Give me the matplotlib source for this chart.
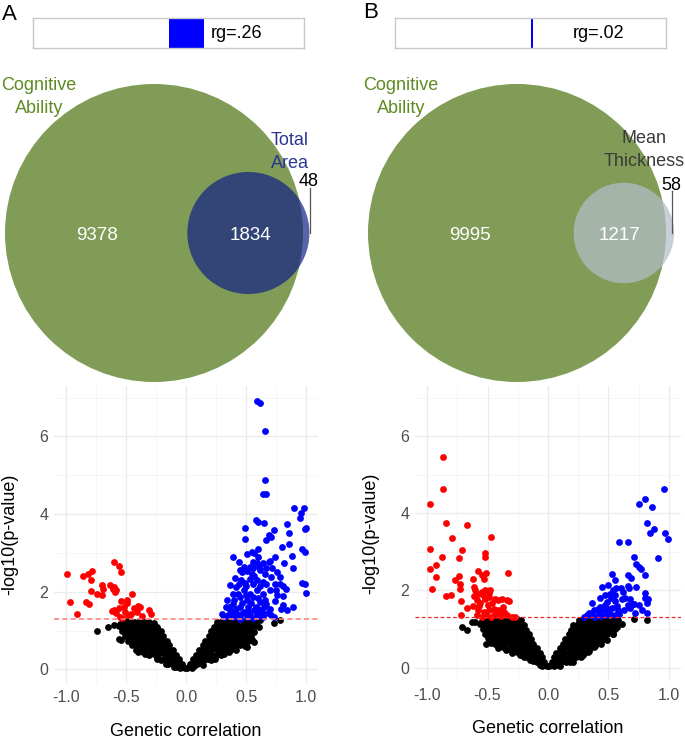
import numpy as np
import matplotlib
matplotlib.use("Agg")
import matplotlib.pyplot as plt
from matplotlib.patches import Circle

plt.rcParams['font.family'] = ['Liberation Sans', 'DejaVu Sans']

# ---------------- data ----------------
panel_labels = ["A", "B"]
rg_values = [0.26, 0.02]
rg_labels = ["rg=.26", "rg=.02"]

set_main = "Cognitive\nAbility"
set_other = ["Total\nArea", "Mean\nThickness"]
only_main = [9378, 9995]
overlap = [1834, 1217]
only_other = [48, 58]

x_ticks = [-1.0, -0.5, 0.0, 0.5, 1.0]
x_ticklabels = ["-1.0", "-0.5", "0.0", "0.5", "1.0"]
y_ticks = [0, 2, 4, 6]
y_ticklabels = ["0", "2", "4", "6"]
p_threshold = 0.05

a_blue = [(0.59,6.92),(0.62,6.87),(0.66,6.15),(0.66,4.89),(0.64,4.52),(0.67,4.52),
    (0.90,4.15),(0.98,4.15),(0.96,4.03),(0.95,3.91),(1.00,3.65),(0.99,3.62),
    (0.58,3.85),(0.60,3.80),(0.65,3.76),(0.49,3.65),(0.84,3.74),(0.73,3.59),(0.86,3.52),
    (0.49,3.35),(0.69,3.46),(0.71,3.42),(0.67,3.33),(0.86,3.24),(0.80,3.16),(0.97,3.11),(0.99,3.03),
    (0.39,2.90),(0.44,2.77),(0.60,3.09),(0.55,3.03),(0.51,2.98),(0.74,2.90),(0.88,2.92),
    (0.56,2.77),(0.59,2.73),(0.64,2.74),(0.82,2.73),(0.69,2.77),(0.89,2.60),
    (0.48,2.64),(0.51,2.53),(0.56,2.60),(0.62,2.56),(0.67,2.60),
    (0.71,2.38),(0.78,2.38),(0.46,2.30),(0.53,2.34),(0.59,2.30),(0.64,2.25),
    (0.44,2.21),(0.49,2.23),(0.56,2.19),(0.62,2.14),(0.67,2.19),(0.74,2.21),(0.81,2.14),
    (0.99,2.21),(0.97,2.22),
    (0.37,2.17),(0.42,2.12),(0.48,2.04),(0.53,1.95),(0.59,2.04),(0.64,1.95),(0.70,2.04),(0.83,2.08),
    (1.00,1.98),
    (0.39,1.95),(0.45,1.87),(0.51,1.78),(0.56,1.87),(0.62,1.74),(0.67,1.69),(0.76,1.91),(0.81,1.89),
    (0.34,1.78),(0.39,1.69),(0.45,1.61),(0.52,1.61),(0.57,1.52),(0.63,1.48),
    (0.81,1.65),(0.84,1.52),(0.89,1.60),
    (0.33,1.61),(0.37,1.52),(0.42,1.44),(0.48,1.48),(0.53,1.40),(0.59,1.44),(0.64,1.35),
    (0.71,1.40),(0.73,1.34),
    (0.30,1.44),(0.35,1.40),(0.39,1.35),(0.45,1.31),(0.51,1.35),(0.56,1.33),
    (0.36,1.62),(0.40,1.80),(0.43,1.95),(0.47,1.70),(0.50,1.92),(0.54,1.70),(0.58,1.62),
    (0.60,1.85),(0.55,2.45),(0.50,2.15),(0.42,1.55),(0.46,1.42),(0.52,1.50),(0.60,1.55),
    (0.65,1.60),(0.70,1.55),(0.68,1.45),(0.41,2.35),(0.47,2.50),(0.57,2.40),(0.61,2.65),
    (0.66,2.45),(0.72,2.62),(0.76,2.50),(0.78,2.20),(0.74,1.75),(0.79,1.55),(0.32,1.35),
    (0.38,1.45),(0.44,1.38),(0.62,1.38),(0.66,1.80),(0.70,2.80),(0.75,2.05),(0.60,2.90),
    (0.57,3.00),(0.53,2.65),(0.45,2.55)]

a_red = [(-0.99,2.45),(-0.86,2.41),(-0.82,2.45),(-0.78,2.54),(-0.79,2.30),(-0.79,2.01),
    (-0.70,2.17),(-0.69,2.08),(-0.63,2.17),(-0.60,2.12),(-0.58,2.04),(-0.59,1.99),(-0.61,2.06),
    (-0.74,1.95),(-0.70,1.92),(-0.97,1.74),(-0.91,1.42),(-0.83,1.74),(-0.81,1.68),(-0.54,1.76),
    (-0.49,1.78),(-0.49,1.71),(-0.45,1.95),(-0.60,1.54),(-0.56,1.59),(-0.58,1.45),(-0.52,1.61),
    (-0.51,1.48),(-0.43,1.57),(-0.40,1.63),(-0.38,1.61),(-0.41,1.48),(-0.31,1.54),(-0.29,1.44),
    (-0.48,1.39),(-0.37,1.37),(-0.60,2.77),(-0.56,2.66),(-0.54,2.50),(-0.55,1.36),(-0.46,1.42),
    (-0.53,1.33),(-0.62,1.50)]

a_black = [
    (0.01,0.03),(0.03,0.06),(0.05,0.04),(0.07,0.08),
    (0.03,0.14),(0.06,0.16),(0.09,0.13),(0.12,0.17),(0.14,0.12),
    (0.06,0.27),(0.09,0.25),(0.12,0.29),(0.15,0.24),(0.18,0.28),(0.21,0.25),(0.24,0.27),
    (0.08,0.38),(0.11,0.40),(0.15,0.37),(0.19,0.41),(0.22,0.38),(0.26,0.40),(0.29,0.36),(0.32,0.39),
    (0.11,0.50),(0.14,0.53),(0.18,0.49),(0.22,0.52),(0.26,0.50),(0.30,0.53),(0.34,0.49),(0.38,0.52),(0.42,0.50),
    (0.14,0.62),(0.17,0.64),(0.21,0.61),(0.25,0.65),(0.29,0.62),(0.33,0.64),(0.37,0.61),(0.41,0.65),(0.45,0.62),(0.49,0.60),
    (0.16,0.74),(0.20,0.76),(0.24,0.73),(0.28,0.77),(0.32,0.74),(0.36,0.76),(0.40,0.73),(0.44,0.77),(0.48,0.74),(0.52,0.72),(0.55,0.76),
    (0.19,0.86),(0.23,0.88),(0.27,0.85),(0.31,0.89),(0.35,0.86),(0.39,0.88),(0.43,0.85),(0.47,0.89),(0.51,0.86),(0.54,0.84),
    (0.21,0.98),(0.25,1.00),(0.29,0.97),(0.33,1.01),(0.37,0.98),(0.41,1.00),(0.45,0.97),(0.49,1.01),(0.53,0.98),(0.57,0.96),
    (0.23,1.10),(0.27,1.12),(0.31,1.09),(0.35,1.13),(0.39,1.10),(0.43,1.12),(0.47,1.09),(0.51,1.13),(0.55,1.10),(0.59,1.11),(0.61,1.08),
    (0.26,1.22),(0.30,1.24),(0.34,1.21),(0.38,1.25),(0.42,1.22),(0.46,1.26),(0.50,1.23),(0.54,1.25),(0.58,1.22),
    (0.73,1.19),(0.78,1.28),(0.62,1.27),(0.51,0.58),(0.50,0.66),(0.55,0.75),(0.57,0.70),
    (0.04,0.09),(0.07,0.21),(0.11,0.21),(0.10,0.33),(0.17,0.33),(0.24,0.33),(0.13,0.45),(0.20,0.45),
    (0.28,0.45),(0.36,0.45),(0.16,0.57),(0.24,0.57),(0.32,0.57),(0.40,0.57),(0.19,0.69),(0.27,0.69),
    (0.35,0.69),(0.43,0.69),(0.22,0.81),(0.30,0.81),(0.38,0.81),(0.46,0.81),(0.25,0.93),(0.33,0.93),
    (0.41,0.93),(0.49,0.93),(0.28,1.05),(0.36,1.05),(0.44,1.05),(0.52,1.05),(0.32,1.17),(0.40,1.17),
    (0.48,1.17),(0.56,1.17),
    (-0.01,0.03),(-0.03,0.06),(-0.05,0.04),(-0.08,0.07),(-0.10,0.05),
    (-0.03,0.14),(-0.06,0.16),(-0.09,0.13),(-0.12,0.17),(-0.15,0.13),(-0.17,0.15),
    (-0.06,0.27),(-0.09,0.25),(-0.12,0.29),(-0.15,0.24),(-0.18,0.28),(-0.21,0.25),(-0.24,0.27),
    (-0.08,0.38),(-0.11,0.40),(-0.15,0.37),(-0.19,0.41),(-0.23,0.38),(-0.27,0.40),(-0.31,0.37),(-0.34,0.40),
    (-0.11,0.50),(-0.14,0.53),(-0.18,0.49),(-0.22,0.52),(-0.26,0.50),(-0.30,0.53),(-0.34,0.49),(-0.38,0.52),(-0.42,0.50),
    (-0.14,0.62),(-0.17,0.64),(-0.21,0.61),(-0.25,0.65),(-0.29,0.62),(-0.33,0.64),(-0.37,0.61),(-0.41,0.65),(-0.45,0.62),
    (-0.16,0.74),(-0.20,0.76),(-0.24,0.73),(-0.28,0.77),(-0.32,0.74),(-0.36,0.76),(-0.40,0.73),(-0.44,0.77),(-0.48,0.74),
    (-0.19,0.86),(-0.23,0.88),(-0.27,0.85),(-0.31,0.89),(-0.35,0.86),(-0.39,0.88),(-0.43,0.85),(-0.47,0.89),(-0.51,0.86),
    (-0.21,0.98),(-0.25,1.00),(-0.29,0.97),(-0.33,1.01),(-0.37,0.98),(-0.41,1.00),(-0.45,0.97),(-0.49,1.01),(-0.53,0.98),
    (-0.24,1.10),(-0.28,1.12),(-0.32,1.09),(-0.36,1.13),(-0.40,1.10),(-0.44,1.12),(-0.48,1.09),(-0.52,1.13),(-0.56,1.12),(-0.60,1.14),
    (-0.27,1.20),(-0.31,1.23),(-0.35,1.21),(-0.39,1.25),(-0.43,1.22),(-0.47,1.27),(-0.51,1.25),(-0.55,1.18),
    (-0.74,0.99),(-0.65,1.09),(-0.56,0.79),(-0.54,0.75),(-0.40,0.45),
    (-0.04,0.09),(-0.07,0.21),(-0.11,0.21),(-0.10,0.33),(-0.17,0.33),(-0.24,0.33),(-0.13,0.45),(-0.20,0.45),
    (-0.28,0.45),(-0.36,0.45),(-0.16,0.57),(-0.24,0.57),(-0.32,0.57),(-0.40,0.57),(-0.19,0.69),(-0.27,0.69),
    (-0.35,0.69),(-0.43,0.69),(-0.22,0.81),(-0.30,0.81),(-0.38,0.81),(-0.46,0.81),(-0.25,0.93),(-0.33,0.93),
    (-0.41,0.93),(-0.49,0.93),(-0.28,1.05),(-0.36,1.05),(-0.44,1.05),(-0.52,1.05),(-0.32,1.17),(-0.40,1.17),
    (-0.48,1.17)]

b_blue = [(0.96,4.64),(0.80,4.36),(0.75,4.25),(0.86,4.15),(0.82,3.75),(0.84,3.50),(0.88,3.58),
    (0.97,3.49),(0.99,3.34),(0.59,3.25),(0.66,3.25),(0.91,2.85),(0.71,2.86),(0.73,2.69),(0.75,2.60),
    (0.77,2.56),(0.80,2.41),(0.53,2.43),(0.55,2.27),(0.66,2.39),(0.69,2.33),(0.45,2.10),(0.50,2.13),
    (0.60,2.07),(0.66,2.12),(0.67,2.06),(0.73,2.10),(0.54,2.00),(0.51,1.91),(0.55,1.87),(0.47,1.87),
    (0.43,1.79),(0.80,1.94),(0.64,1.81),(0.68,1.78),(0.71,1.65),(0.80,1.79),(0.83,1.77),(0.82,1.66),
    (0.36,1.66),(0.43,1.57),(0.47,1.63),(0.50,1.52),(0.55,1.72),(0.57,1.60),(0.38,1.48),(0.42,1.41),
    (0.46,1.48),(0.63,1.48),(0.66,1.61),(0.70,1.64),(0.82,1.41),(0.72,1.41),(0.32,1.35),(0.30,1.31),
    (0.51,1.38),(0.55,1.35),(0.59,1.39),(0.36,1.35),(0.39,1.31),(0.44,1.33),(0.48,1.36),(0.53,1.55),
    (0.58,1.50),(0.61,1.78),(0.49,1.70),(0.52,1.80),(0.45,1.55),(0.41,1.52),(0.34,1.42),(0.56,2.05),
    (0.62,1.95),(0.68,1.55),(0.75,1.62),(0.78,1.50)]

b_red = [(-0.87,5.45),(-0.87,4.62),(-0.98,4.23),(-0.84,3.75),(-0.67,3.69),(-0.47,3.39),(-0.79,3.36),
    (-0.98,3.08),(-0.71,3.06),(-0.52,2.98),(-0.52,2.87),(-0.88,2.87),(-0.74,2.84),(-0.98,2.56),
    (-0.93,2.65),(-0.93,2.35),(-0.96,2.04),(-0.77,2.26),(-0.74,2.36),(-0.73,2.16),(-0.73,2.04),
    (-0.33,2.46),(-0.58,2.49),(-0.55,2.39),(-0.51,2.45),(-0.53,2.30),(-0.62,2.30),(-0.61,2.10),
    (-0.84,1.85),(-0.80,1.87),(-0.72,1.72),(-0.67,1.55),(-0.72,1.35),(-0.60,2.00),(-0.58,1.91),
    (-0.55,1.96),(-0.52,2.00),(-0.48,2.02),(-0.59,1.74),(-0.56,1.67),(-0.52,1.78),(-0.49,1.83),
    (-0.44,1.78),(-0.41,1.74),(-0.38,1.78),(-0.34,1.74),(-0.32,1.72),(-0.58,1.48),(-0.53,1.44),
    (-0.49,1.48),(-0.45,1.52),(-0.41,1.48),(-0.37,1.57),(-0.36,1.44),(-0.59,1.35),(-0.55,1.32),
    (-0.51,1.36),(-0.47,1.32),(-0.43,1.36),(-0.39,1.33),(-0.34,1.36),(-0.30,1.32),(-0.27,1.31),
    (-0.62,1.60),(-0.57,1.60),(-0.50,1.62),(-0.46,1.68),(-0.54,1.88),(-0.49,1.92),(-0.61,1.85),
    (-0.44,1.42),(-0.40,1.40)]

b_black = [
    (-0.01,0.03),(-0.03,0.06),(-0.05,0.04),(-0.07,0.07),
    (-0.03,0.14),(-0.06,0.16),(-0.09,0.13),(-0.12,0.16),
    (-0.05,0.27),(-0.08,0.25),(-0.11,0.29),(-0.14,0.24),(-0.17,0.28),(-0.20,0.26),
    (-0.07,0.38),(-0.10,0.40),(-0.14,0.37),(-0.18,0.41),(-0.22,0.38),(-0.26,0.40),(-0.30,0.37),
    (-0.09,0.50),(-0.13,0.53),(-0.17,0.49),(-0.21,0.52),(-0.25,0.50),(-0.29,0.53),(-0.33,0.49),(-0.37,0.52),(-0.41,0.50),
    (-0.12,0.62),(-0.16,0.64),(-0.20,0.61),(-0.24,0.65),(-0.28,0.62),(-0.32,0.64),(-0.36,0.61),(-0.40,0.65),(-0.44,0.62),(-0.47,0.64),
    (-0.14,0.74),(-0.18,0.76),(-0.22,0.73),(-0.26,0.77),(-0.30,0.74),(-0.34,0.76),(-0.38,0.73),(-0.42,0.77),(-0.46,0.74),(-0.50,0.76),
    (-0.16,0.86),(-0.20,0.88),(-0.24,0.85),(-0.28,0.89),(-0.32,0.86),(-0.36,0.88),(-0.40,0.85),(-0.44,0.89),(-0.48,0.86),(-0.52,0.88),
    (-0.18,0.98),(-0.22,1.00),(-0.26,0.97),(-0.30,1.01),(-0.34,0.98),(-0.38,1.00),(-0.42,0.97),(-0.46,1.01),(-0.50,0.98),(-0.54,1.00),
    (-0.20,1.10),(-0.24,1.12),(-0.28,1.09),(-0.32,1.13),(-0.36,1.10),(-0.40,1.12),(-0.44,1.09),(-0.48,1.13),(-0.52,1.10),(-0.56,1.12),
    (-0.22,1.22),(-0.26,1.25),(-0.30,1.21),(-0.34,1.26),(-0.38,1.22),(-0.42,1.25),(-0.46,1.21),(-0.50,1.24),(-0.55,1.20),(-0.60,1.19),(-0.63,1.18),
    (-0.71,1.05),(-0.67,0.96),(-0.51,0.61),
    (-0.04,0.09),(-0.07,0.21),(-0.11,0.21),(-0.15,0.20),(-0.09,0.33),(-0.16,0.33),(-0.23,0.33),(-0.12,0.45),
    (-0.19,0.45),(-0.27,0.45),(-0.35,0.45),(-0.15,0.57),(-0.23,0.57),(-0.31,0.57),(-0.39,0.57),(-0.17,0.69),
    (-0.25,0.69),(-0.33,0.69),(-0.41,0.69),(-0.47,0.69),(-0.20,0.81),(-0.28,0.81),(-0.36,0.81),(-0.44,0.81),
    (-0.22,0.93),(-0.30,0.93),(-0.38,0.93),(-0.46,0.93),(-0.25,1.05),(-0.33,1.05),(-0.41,1.05),(-0.49,1.05),
    (-0.28,1.17),(-0.36,1.17),(-0.44,1.17),(-0.52,1.17),
    (0.01,0.03),(0.03,0.06),(0.05,0.04),(0.08,0.07),(0.10,0.05),
    (0.03,0.14),(0.06,0.16),(0.09,0.13),(0.12,0.16),(0.15,0.13),(0.18,0.15),(0.21,0.14),
    (0.05,0.27),(0.08,0.25),(0.11,0.29),(0.14,0.24),(0.17,0.28),(0.20,0.25),(0.23,0.27),(0.27,0.26),
    (0.07,0.38),(0.10,0.40),(0.14,0.37),(0.18,0.41),(0.22,0.38),(0.26,0.40),(0.30,0.37),(0.33,0.39),
    (0.10,0.50),(0.14,0.53),(0.18,0.49),(0.22,0.52),(0.26,0.50),(0.30,0.53),(0.34,0.49),(0.38,0.52),
    (0.12,0.62),(0.16,0.64),(0.20,0.61),(0.24,0.65),(0.28,0.62),(0.32,0.64),(0.36,0.61),(0.40,0.65),(0.44,0.62),
    (0.14,0.74),(0.18,0.76),(0.22,0.73),(0.26,0.77),(0.30,0.74),(0.34,0.76),(0.38,0.73),(0.42,0.77),(0.46,0.74),(0.49,0.72),
    (0.17,0.86),(0.21,0.88),(0.25,0.85),(0.29,0.89),(0.33,0.86),(0.37,0.88),(0.41,0.85),(0.45,0.89),(0.49,0.86),(0.54,0.87),
    (0.19,0.98),(0.23,1.00),(0.27,0.97),(0.31,1.01),(0.35,0.98),(0.39,1.00),(0.43,0.97),(0.47,1.01),(0.51,0.98),(0.55,1.00),
    (0.21,1.10),(0.25,1.12),(0.29,1.09),(0.33,1.13),(0.37,1.10),(0.41,1.12),(0.45,1.09),(0.49,1.13),(0.53,1.10),(0.57,1.12),(0.61,1.13),
    (0.26,1.22),(0.30,1.25),(0.34,1.21),(0.38,1.26),(0.42,1.22),(0.46,1.25),(0.50,1.21),(0.54,1.24),(0.58,1.22),
    (0.71,1.26),(0.82,1.22),(0.54,0.87),
    (0.04,0.09),(0.07,0.21),(0.11,0.21),(0.16,0.20),(0.20,0.19),(0.09,0.33),(0.16,0.33),(0.23,0.33),
    (0.29,0.32),(0.12,0.45),(0.19,0.45),(0.27,0.45),(0.34,0.44),(0.15,0.57),(0.23,0.57),(0.31,0.57),
    (0.39,0.57),(0.17,0.69),(0.25,0.69),(0.33,0.69),(0.41,0.69),(0.20,0.81),(0.28,0.81),(0.36,0.81),
    (0.44,0.81),(0.22,0.93),(0.30,0.93),(0.38,0.93),(0.46,0.93),(0.25,1.05),(0.33,1.05),(0.41,1.05),
    (0.49,1.05),(0.57,1.05),(0.28,1.17),(0.36,1.17),(0.44,1.17),(0.52,1.17)]

# ---------------- styling ----------------
W, H = 685, 740
fig = plt.figure(figsize=(W / 100, H / 100), dpi=100)

green = '#809c56'
green_text = '#5f8a22'
other_fill = ['#112185', '#b3bec8']
other_alpha = [0.70, 0.72]
other_text = ['#2b3592', '#3a3a3a']

def px_axes(left, top, right, bottom):
    return fig.add_axes([left / W, 1 - bottom / H, (right - left) / W, (bottom - top) / H])

# ---------------- rg bars ----------------
bar_boxes = [(33, 18, 304, 48), (395, 18, 666, 48)]
for i in range(2):
    ax = px_axes(*bar_boxes[i])
    ax.barh(0, rg_values[i], height=1.0, left=0, color='#0000ff')
    ax.set_xlim(-1, 1)
    ax.set_ylim(-0.5, 0.5)
    ax.set_xticks([]); ax.set_yticks([])
    for s in ax.spines.values():
        s.set_color('#c8c8c8'); s.set_linewidth(1.0)
    ax.text(0.5, 0.0, rg_labels[i], ha='center', va='center', fontsize=13, color='black')

# ---------------- volcano plots ----------------
vol_boxes = [(54, 386, 318, 683), (415, 386, 681, 681)]
thr_colors = ['#ff8080', '#ee2a2a']
thr_lw = [1.2, 0.9]
data_sets = [(a_black, a_red, a_blue), (b_black, b_red, b_blue)]
MS = 24
for i in range(2):
    ax = px_axes(*vol_boxes[i])
    blk, red, blu = [np.array(d) for d in data_sets[i]]
    ax.set_xlim(-1.1, 1.1)
    ax.set_ylim(-0.35, 7.3)
    ax.set_xticks(x_ticks); ax.set_xticklabels(x_ticklabels)
    ax.set_yticks(y_ticks); ax.set_yticklabels(y_ticklabels)
    ax.set_xticks([-0.75, -0.25, 0.25, 0.75], minor=True)
    ax.set_yticks([1, 3, 5, 7], minor=True)
    ax.grid(which='major', color='#ebebeb', lw=0.9)
    ax.grid(which='minor', color='#f2f2f2', lw=0.5)
    ax.set_axisbelow(True)
    for s in ax.spines.values():
        s.set_visible(False)
    ax.tick_params(which='both', length=0, labelsize=11.5, labelcolor='#4d4d4d')
    ax.tick_params(axis='x', pad=5)
    ax.tick_params(axis='y', pad=4)
    ax.scatter(blk[:, 0], blk[:, 1], s=MS, color='black', lw=0, zorder=3)
    ax.scatter(red[:, 0], red[:, 1], s=MS, color='#ff0000', lw=0, zorder=3)
    ax.scatter(blu[:, 0], blu[:, 1], s=MS, color='#0000ff', lw=0, zorder=3)
    ax.axhline(-np.log10(p_threshold), color=thr_colors[i], lw=thr_lw[i], ls=(0, (3, 2)), zorder=4)
    ax.set_xlabel('Genetic correlation', fontsize=13, color='black')
    ax.xaxis.label.set_va('center')
    ax.xaxis.set_label_coords(0.5, -0.162)
    ax.set_ylabel('-log10(p-value)', fontsize=13, color='black')
    ax.yaxis.label.set_va('center')
    ax.yaxis.set_label_coords(-0.168, 0.5)

# ---------------- Venn diagrams ----------------
def lens_area(d, r1, r2):
    if d >= r1 + r2:
        return 0.0
    if d <= abs(r1 - r2):
        return np.pi * min(r1, r2) ** 2
    a1 = r1 ** 2 * np.arccos((d ** 2 + r1 ** 2 - r2 ** 2) / (2 * d * r1))
    a2 = r2 ** 2 * np.arccos((d ** 2 + r2 ** 2 - r1 ** 2) / (2 * d * r2))
    a3 = 0.5 * np.sqrt((-d + r1 + r2) * (d + r1 - r2) * (d - r1 + r2) * (d + r1 + r2))
    return a1 + a2 - a3

R_MAIN = 149.0
vax = fig.add_axes([0, 0, 1, 1])
vax.set_xlim(0, W); vax.set_ylim(H, 0); vax.axis('off')

main_cx = [154, 517]
cy = 233
main_lab = [(39, 97), (401, 97)]
other_lab = [(290, 152), (644, 150)]
count_main_pos = [(97, 235), (470, 235)]
count_over_pos = [(250, 235), (620, 235)]
count_other_pos = [(309, 182), (671, 185)]

for i in range(2):
    tot_main = only_main[i] + overlap[i]
    tot_other = overlap[i] + only_other[i]
    k = R_MAIN / np.sqrt(tot_main)
    r1 = R_MAIN
    r2 = k * np.sqrt(tot_other)
    target = np.pi * k ** 2 * overlap[i]
    lo, hi = abs(r1 - r2) + 1e-6, r1 + r2
    for _ in range(80):
        mid = 0.5 * (lo + hi)
        if lens_area(mid, r1, r2) > target:
            lo = mid
        else:
            hi = mid
    d = 0.5 * (lo + hi)
    cx1 = main_cx[i]
    cx2 = cx1 + d
    vax.add_patch(Circle((cx1, cy), r1, facecolor=green, edgecolor='none', zorder=2))
    vax.add_patch(Circle((cx2, cy), r2, facecolor=other_fill[i], alpha=other_alpha[i],
                         edgecolor='none', zorder=3))
    vax.text(*main_lab[i], set_main, ha='center', va='center', fontsize=13,
             color=green_text, linespacing=1.45, zorder=5)
    vax.text(*other_lab[i], set_other[i], ha='center', va='center', fontsize=13,
             color=other_text[i], linespacing=1.45, zorder=5)
    vax.text(*count_main_pos[i], f"{only_main[i]}", ha='center', va='center', fontsize=13.5,
             color='white', zorder=5)
    vax.text(*count_over_pos[i], f"{overlap[i]}", ha='center', va='center', fontsize=13.5,
             color='white', zorder=5)
    ox, oy = count_other_pos[i]
    vax.text(ox, oy, f"{only_other[i]}", ha='center', va='center', fontsize=13,
             color='black', zorder=5)
    vax.plot([ox + 1, ox + 1], [oy + 6, cy], color='#555555', lw=0.9, zorder=5)

# panel letters
fig.text(2 / W, 1 - 4 / H, panel_labels[0], ha='left', va='top', fontsize=16)
fig.text(363 / W, 1 - 2 / H, panel_labels[1], ha='left', va='top', fontsize=16)

fig.savefig('out.png', dpi=100)
